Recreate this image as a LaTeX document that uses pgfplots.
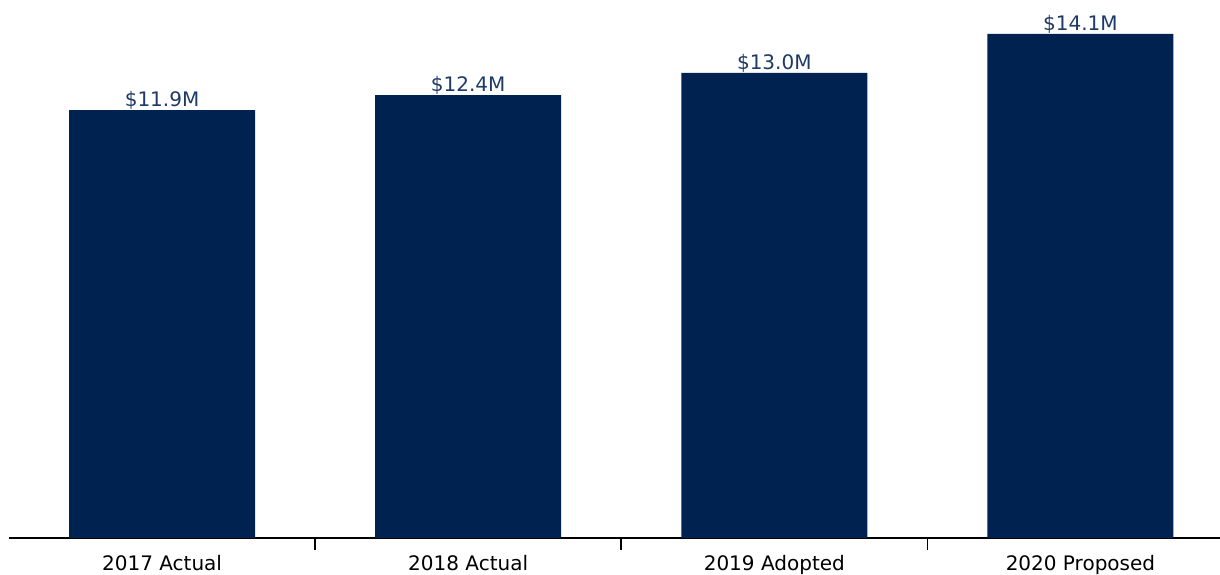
\documentclass[border=0pt]{standalone}
\usepackage{pgfplots}
\pgfplotsset{compat=1.18}
\usepackage{fontspec}
\setmainfont{DejaVu Sans}
\definecolor{barnavy}{HTML}{002251}
\definecolor{labnavy}{HTML}{1F3A66}
\begin{document}
\begin{tikzpicture}
\useasboundingbox (-9pt,-37pt) rectangle (1211pt,538pt);
\begin{axis}[
  at={(0pt,0pt)}, anchor=south west,
  scale only axis, width=1211pt, height=538pt,
  xmin=-0.5, xmax=3.456, ymin=0, ymax=15.05,
  axis y line=none, axis x line*=bottom,
  axis line style={line width=2pt, black},
  ybar, bar width=186pt,
  xtick={0.5,1.5,2.5},
  xticklabels={},
  major tick length=12pt,
  tick align=outside,
  major tick style={line width=1.6pt, black},
  extra x ticks={0,1,2,3},
  extra x tick labels={2017 Actual,2018 Actual,2019 Adopted,2020 Proposed},
  extra x tick style={major tick length=0pt, xticklabel style={font=\fontsize{20}{24}\selectfont, yshift=-14pt, text=black}},
  nodes near coords,
  point meta=explicit symbolic,
  every node near coord/.append style={font=\fontsize{20}{24}\selectfont, text=labnavy, anchor=south, inner sep=2pt, yshift=-2pt},
  clip=false,
]
\addplot[fill=barnavy, draw=none] coordinates {
  (0,11.97) [\$11.9M]
  (1,12.39) [\$12.4M]
  (2,13.01) [\$13.0M]
  (3,14.10) [\$14.1M]
};
\end{axis}
\end{tikzpicture}
\end{document}
